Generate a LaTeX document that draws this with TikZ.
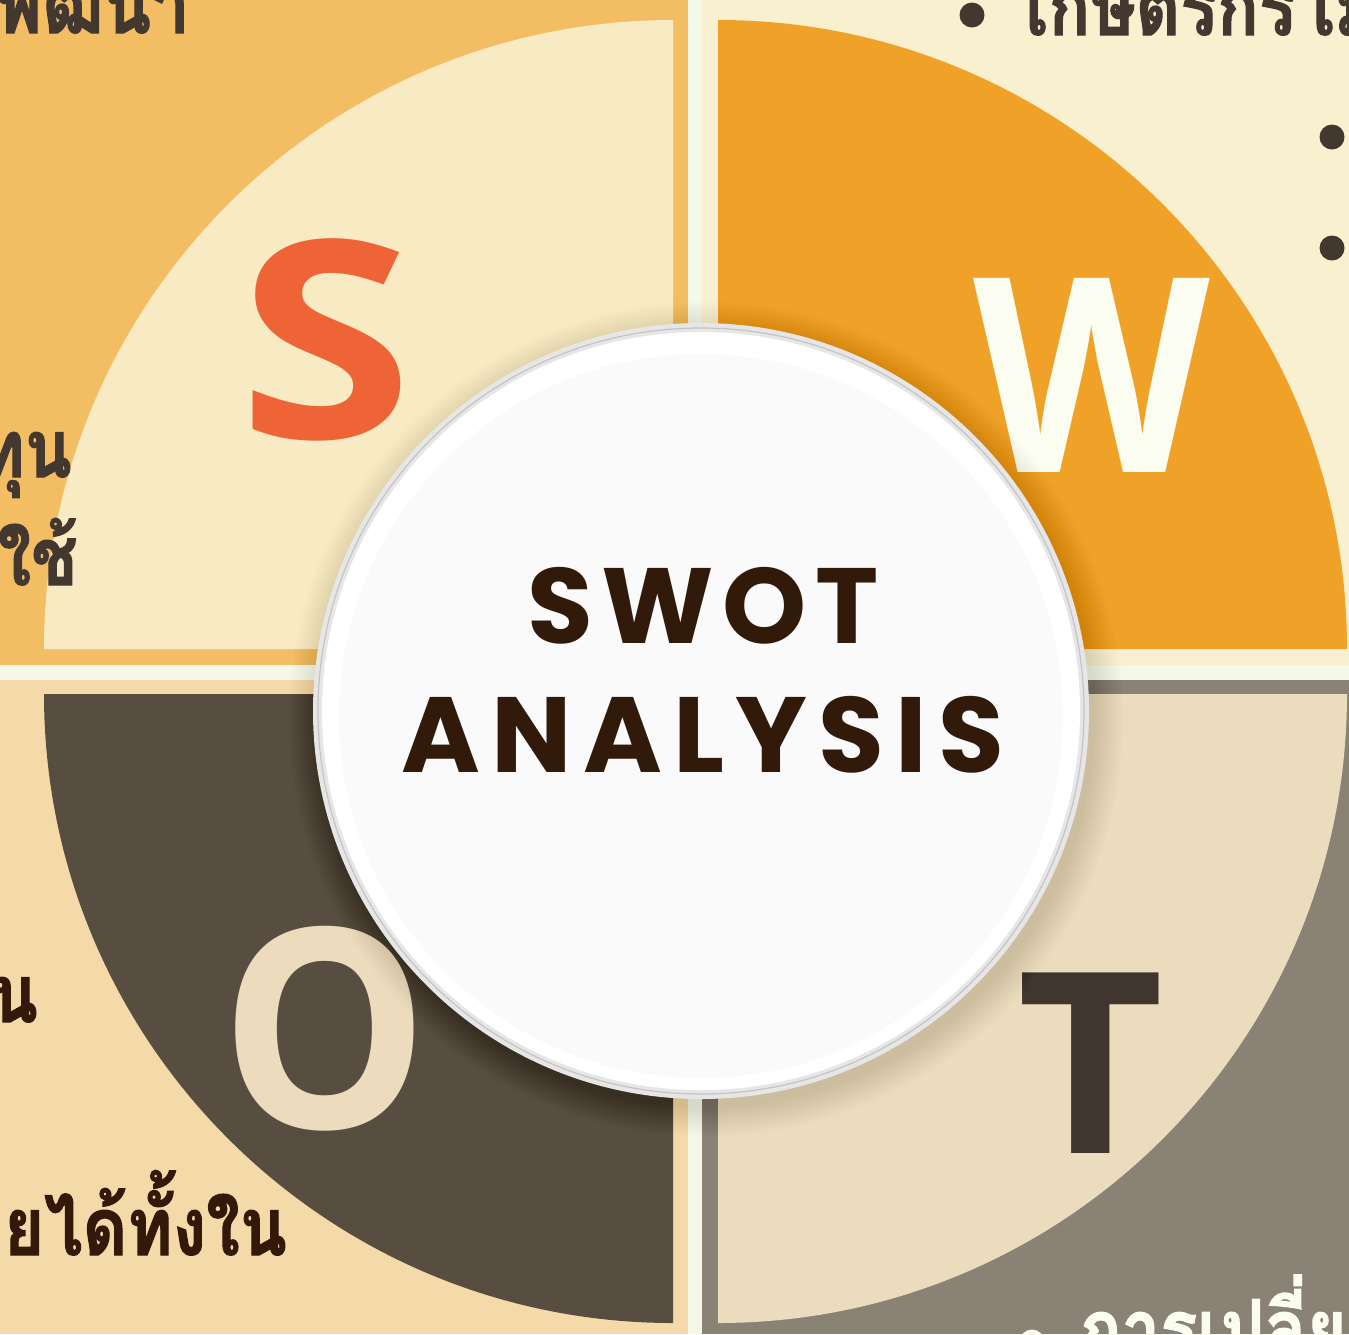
\documentclass[tikz,border=0pt]{standalone}
\usepackage{fontspec}
\newfontfamily\thaifont[Script=Thai, BoldFeatures={FakeBold=1.5}]{Loma}
\newfontfamily\bigfont{Open Sans}
\newfontfamily\titlefont[LetterSpace=8]{Poppins}
\newfontfamily\titlefontwide[LetterSpace=10.5]{Poppins}
\definecolor{gapc}{HTML}{F4F8E8}
\definecolor{tlbg}{HTML}{F3BE63}
\definecolor{tlq}{HTML}{F8EBC3}
\definecolor{trbg}{HTML}{F8F0CF}
\definecolor{trq}{HTML}{F0A127}
\definecolor{blbg}{HTML}{F4DAA9}
\definecolor{blq}{HTML}{574D40}
\definecolor{brbg}{HTML}{8A8274}
\definecolor{brq}{HTML}{ECDCBE}
\definecolor{txtA}{HTML}{433830}
\definecolor{txtB}{HTML}{33190A}
\definecolor{txtC}{HTML}{FAFDF0}
\definecolor{sred}{HTML}{EE6436}
\definecolor{wcream}{HTML}{FAFDF0}
\definecolor{ocream}{HTML}{ECDCBD}
\definecolor{tdark}{HTML}{40362F}
\definecolor{titlec}{HTML}{321A0A}
\definecolor{ringc}{HTML}{E6E6E6}
\definecolor{ringline}{HTML}{C4C4C4}
\definecolor{facec}{HTML}{FAFAFA}
\tikzset{
  thaitxt/.style={inner sep=0pt, xscale=0.86, font=\thaifont\bfseries\fontsize{80}{90}\selectfont},
  bigletter/.style={inner sep=0pt, anchor=base},
  titletxt/.style={inner sep=0pt, anchor=base, text=titlec},
  bulletdot/.style={circle, inner sep=0pt, minimum size=25pt}
}
\begin{document}
\begin{tikzpicture}[x=1pt,y=-1pt]
\useasboundingbox (0,0) rectangle (1349,1334);
% background and quadrants
\fill[gapc] (0,0) rectangle (1349,1334);
\fill[tlbg] (0,0) rectangle (688,665);
\fill[trbg] (702,0) rectangle (1349,665);
\fill[blbg] (0,680) rectangle (688,1334);
\fill[brbg] (702,680) rectangle (1349,1334);
\fill[tlq] (673,649) -- (44,649) arc[start angle=180, end angle=270, radius=629] -- cycle;
\fill[trq] (718,649) -- (718,20) arc[start angle=270, end angle=360, radius=629] -- cycle;
\fill[blq] (673,694) -- (44,694) arc[start angle=180, end angle=90, radius=629] -- cycle;
\fill[brq] (718,694) -- (1347,694) arc[start angle=0, end angle=90, radius=629] -- cycle;
% big letters
\node[bigletter, text=sred, xscale=1.15, font=\bigfont\bfseries\fontsize{276}{280}\selectfont] (S) at (326,438) {S};
\node[bigletter, text=wcream, xscale=0.9, font=\bigfont\bfseries\fontsize{272}{280}\selectfont] (W) at (1092,472) {W};
\node[bigletter, text=ocream, xscale=0.94, font=\bigfont\bfseries\fontsize{279}{280}\selectfont] (O) at (325,1128) {O};
\node[bigletter, text=tdark, font=\bigfont\bfseries\fontsize{253}{260}\selectfont] (T) at (1091,1153) {T};
% Thai texts (cropped by the page edge, as in the reference)
\node[thaitxt, text=txtA, anchor=base east] (tl1) at (190,33) {การพัฒนา};
\node[thaitxt, text=txtA, anchor=base east] (tl2) at (72,477) {ทุน};
\node[thaitxt, text=txtA, anchor=base east] (tl3) at (78,585) {มาใช้};
\node[thaitxt, text=txtB, anchor=base east] (bl1) at (38,1022) {น};
\node[thaitxt, text=txtB, anchor=base east] (bl2) at (287,1255) {ขยายได้ทั้งใน};
\node[bulletdot, fill=txtA] (b1) at (972,15) {};
\node[thaitxt, text=txtA, anchor=base west] (tr1) at (1025,35) {เกษตรกรไม่};
\node[bulletdot, fill=txtA] (b2) at (1332,137) {};
\node[bulletdot, fill=txtA] (b3) at (1332,248) {};
\node[bulletdot, fill=txtC] (b4) at (1032,1342) {};
\node[thaitxt, text=txtC, anchor=base west] (br1) at (1080,1357) {การเปลี่ยนแปลง};
% center disc with soft shadow
\foreach \i [evaluate=\i as \r using 388+30-\i] in {0,...,30}
  \fill[black, opacity=0.005] (706,719) circle[radius=\r];
\fill[ringc] (701,711) circle[radius=388];
\draw[ringline, line width=1.2pt] (701,711) circle[radius=383];
\fill[white] (701,711) circle[radius=379];
\fill[facec] (701,716) circle[radius=362];
\node[titletxt, font=\titlefont\bfseries\fontsize{107}{120}\selectfont] (swot) at (703,643) {SWOT};
\node[titletxt, font=\titlefontwide\bfseries\fontsize{107}{120}\selectfont] (analysis) at (703,772) {ANALYSIS};
\end{tikzpicture}
\end{document}
